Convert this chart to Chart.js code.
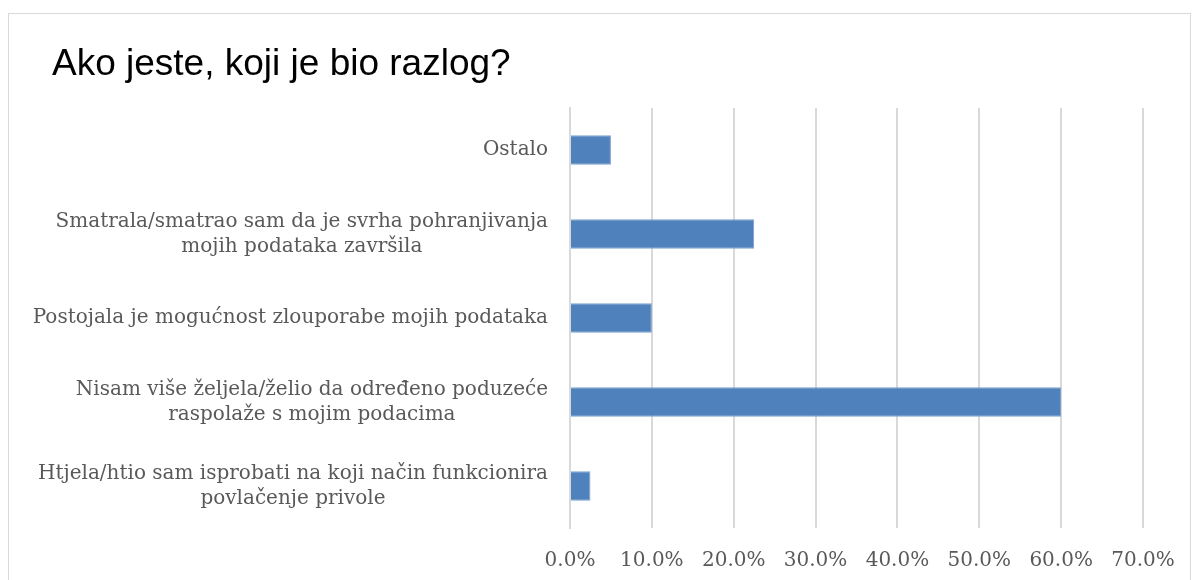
<!DOCTYPE html>
<html>
<head>
<meta charset="utf-8">
<script src="https://cdn.jsdelivr.net/npm/chart.js@4"></script>
<style>
  body { margin: 0; background: #fff; }
  #box { position: absolute; left: 8px; top: 13px; width: 1181px; height: 580px; border: 1px solid #d9d9d9; }
</style>
</head>
<body>
<div id="box"><canvas id="reasonChart" width="1181" height="566"></canvas></div>
<script>
const chartTitle = "Ako jeste, koji je bio razlog?";
const reasons = [
  "Ostalo",
  ["Smatrala/smatrao sam da je svrha pohranjivanja", "mojih podataka završila"],
  "Postojala je mogućnost zlouporabe mojih podataka",
  ["Nisam više željela/želio da određeno poduzeće", "raspolaže s mojim podacima"],
  ["Htjela/htio sam isprobati na koji način funkcionira", "povlačenje privole"]
];
const shares = [0.05, 0.225, 0.10, 0.60, 0.025];
const axisMax = 0.7;
const axisStep = 0.1;

const serif = "'DejaVu Serif', serif";
const labelSize = 20;
const labelLine = 25;
const labelGap = 22;

// category labels: each block right-aligned to the axis, its lines centred on each other
const blockLabels = {
  id: 'blockLabels',
  afterDraw(chart) {
    const y = chart.scales.y;
    const c = chart.ctx;
    c.save();
    c.font = labelSize + 'px ' + serif;
    c.fillStyle = '#595959';
    c.textAlign = 'center';
    c.textBaseline = 'middle';
    chart.data.labels.forEach((lab, i) => {
      const lines = Array.isArray(lab) ? lab : [lab];
      const w = Math.max(...lines.map(l => c.measureText(l).width));
      const cx = chart.chartArea.left - labelGap - w / 2;
      const top = y.getPixelForTick(i) - (lines.length - 1) * labelLine / 2;
      lines.forEach((l, k) => c.fillText(l, cx, top + k * labelLine));
    });
    c.restore();
  }
};

const ctx = document.getElementById('reasonChart').getContext('2d');
new Chart(ctx, {
  type: 'bar',
  data: {
    labels: reasons,
    datasets: [{
      data: shares,
      backgroundColor: '#4f81bd',
      borderColor: '#7b9fcd',
      borderWidth: 1,
      barPercentage: 0.35,
      categoryPercentage: 1
    }]
  },
  options: {
    indexAxis: 'y',
    responsive: false,
    animation: false,
    layout: { padding: { left: 43, right: 47, top: 0, bottom: 0 } },
    plugins: {
      legend: { display: false },
      tooltip: { enabled: false },
      title: {
        display: true,
        text: chartTitle,
        align: 'start',
        color: '#000',
        font: { family: "'Liberation Sans', Arial, sans-serif", size: 37, weight: 'normal', lineHeight: 1.2 },
        padding: { top: 29, bottom: 20.6 }
      }
    },
    scales: {
      x: {
        min: 0,
        max: axisMax,
        border: { display: false },
        grid: { color: '#d9d9d9', lineWidth: 2, drawTicks: false },
        ticks: {
          stepSize: axisStep,
          padding: 21,
          color: '#595959',
          font: { family: serif, size: 20 },
          callback: v => (v * 100).toFixed(1) + '%'
        },
        afterFit: scale => {
          scale.height = 52;
          scale.paddingLeft = 0;
          scale.paddingRight = 0;
        }
      },
      y: {
        border: { display: true, color: '#d9d9d9', width: 2 },
        grid: { display: false, drawTicks: false },
        ticks: { display: false },
        afterFit: scale => { scale.width = 518; }
      }
    }
  },
  plugins: [blockLabels]
});
</script>
</body>
</html>
